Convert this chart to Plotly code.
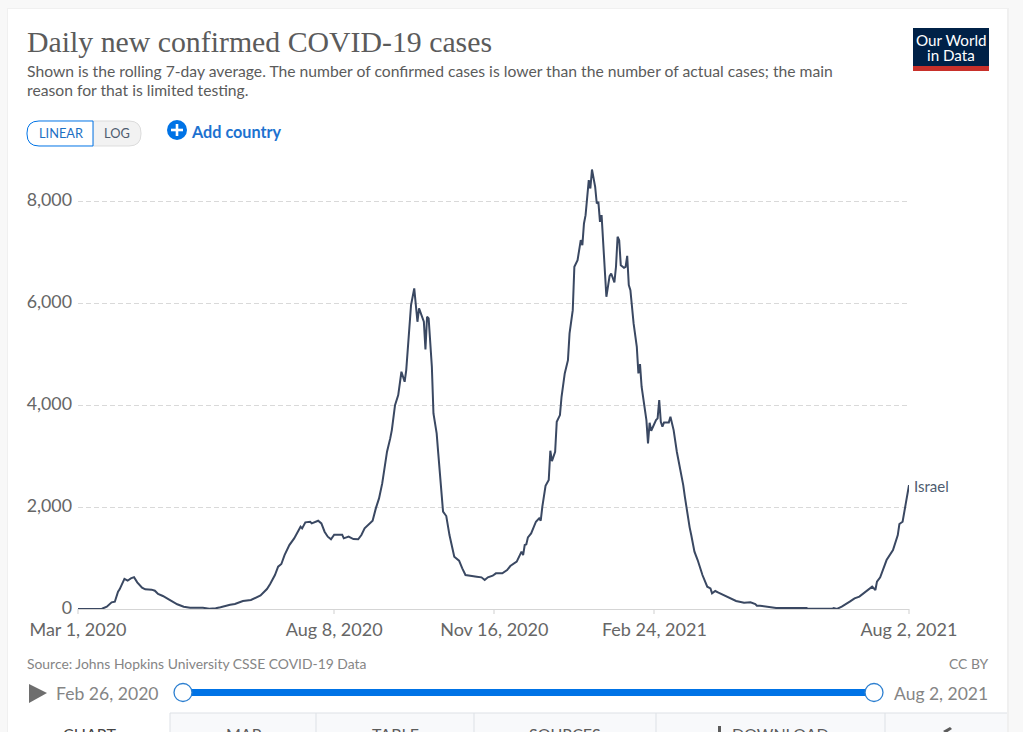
import pandas as pd
import plotly.graph_objects as go

START_DATE = "2020-03-01"
END_DATE = "2021-08-02"

days_since_start = [
    0, 15, 18, 21, 23, 25, 26, 29, 31, 33, 35, 37, 40, 42, 46, 48, 50, 53, 58, 62,
    66, 70, 78, 82, 86, 89, 95, 98, 103, 108, 114, 118, 120, 123, 125, 127, 129, 130, 132, 135,
    137, 139, 140, 142, 145, 146, 150, 152, 154, 156, 158, 160, 165, 166, 169, 172, 175, 177, 179, 181,
    184, 186, 188, 190, 192, 193, 195, 196, 198, 200, 202, 204, 205, 207, 208, 210, 211, 212, 213, 216,
    217, 218, 219, 221, 222, 224, 225, 226, 228, 230, 232, 235, 238, 240, 242, 246, 248, 249, 252, 254,
    256, 259, 261, 265, 268, 270, 274, 277, 278, 279, 280, 281, 283, 286, 288, 289, 290, 292, 294, 295,
    296, 298, 299, 301, 302, 304, 306, 307, 309, 310, 312, 314, 315, 316, 317, 318, 319, 320, 321, 323,
    324, 325, 326, 327, 329, 330, 332, 333, 335, 336, 337, 338, 339, 341, 342, 343, 344, 345, 347, 348,
    349, 350, 351, 352, 354, 355, 356, 357, 358, 361, 362, 363, 364, 365, 366, 369, 370, 371, 372, 374,
    376, 378, 379, 380, 382, 383, 385, 387, 389, 390, 393, 395, 396, 398, 400, 405, 411, 416, 420, 423,
    424, 426, 430, 436, 455, 456, 471, 472, 474, 477, 482, 485, 488, 493, 496, 498, 499, 501, 505, 509,
    512, 513, 515, 517, 519,
]
daily_cases = [
    0, 5, 45, 131, 143, 340, 386, 590, 555, 600, 625, 523, 418, 386, 379, 359, 294, 255, 163, 92,
    45, 25, 25, 5, 15, 33, 84, 98, 157, 176, 265, 392, 490, 666, 830, 882, 1058, 1124, 1254, 1385,
    1516, 1614, 1581, 1699, 1712, 1679, 1731, 1679, 1516, 1418, 1366, 1457, 1457, 1385, 1418, 1372, 1366, 1450, 1581, 1646,
    1731, 1973, 2169, 2463, 2855, 3084, 3345, 3508, 3998, 4194, 4652, 4456, 4684, 5468, 5958, 6285, 5926, 5632, 5893, 5632,
    5090, 5730, 5697, 4750, 3835, 3443, 3050, 2659, 1908, 1823, 1450, 1026, 947, 797, 666, 647, 647, 634, 621, 568,
    621, 653, 699, 699, 764, 843, 928, 1124, 1058, 1254, 1268, 1405, 1483, 1712, 1777, 1731, 2006, 2417, 2528, 3103,
    2900, 3084, 3672, 3802, 4162, 4619, 4880, 5403, 5860, 6710, 6840, 7232, 7134, 7559, 7722, 8147, 8408, 8245, 8617, 8278,
    7951, 7984, 7592, 7722, 6644, 6122, 6527, 6579, 6403, 6710, 7298, 7232, 6742, 6690, 6710, 6925, 6350, 6252, 5599, 5403,
    5142, 4619, 4802, 4358, 3868, 3704, 3247, 3652, 3495, 3704, 3737, 4096, 3672, 3574, 3659, 3659, 3770, 3639, 3508, 3084,
    2790, 2430, 2202, 1973, 1601, 1450, 1124, 960, 764, 666, 438, 405, 307, 353, 320, 242, 157, 124, 131, 98,
    65, 65, 46, 20, 20, 3, 3, 20, 3, 46, 144, 209, 242, 372, 438, 372, 536, 621, 960, 1156,
    1450, 1666, 1712, 2071, 2430,
]
x_tick_dates = ["2020-03-01", "2020-08-08", "2020-11-16", "2021-02-24", "2021-08-02"]
x_tick_labels = ["Mar 1, 2020", "Aug 8, 2020", "Nov 16, 2020", "Feb 24, 2021", "Aug 2, 2021"]
y_tick_values = [0, 2000, 4000, 6000, 8000]
y_tick_labels = ["0", "2,000", "4,000", "6,000", "8,000"]

W, H = 1023, 732
LINE = "#3a4862"
BLUE = "#0073e6"
GREY = "#5b5b5b"
LIGHT = "#858585"


def X(px):
    return px / W


def Y(py):
    return 1 - py / H


dates = pd.to_datetime(START_DATE) + pd.to_timedelta(days_since_start, unit="D")

fig = go.Figure(
    go.Scatter(
        x=dates, y=daily_cases, mode="lines",
        line=dict(color=LINE, width=2), hoverinfo="skip", cliponaxis=False,
    )
)

shapes = []


def rect(x0, y0, x1, y1, fill, line=None, width=0, layer="below"):
    shapes.append(dict(
        type="rect", xref="paper", yref="paper", x0=X(x0), x1=X(x1), y0=Y(y0), y1=Y(y1),
        fillcolor=fill, line=dict(color=line or fill, width=width), layer=layer,
    ))


def hline(x0, x1, y, color, width=1):
    shapes.append(dict(type="line", xref="paper", yref="paper", x0=X(x0), x1=X(x1), y0=Y(y), y1=Y(y),
                       line=dict(color=color, width=width), layer="below"))


def vline(x, y0, y1, color, width=1):
    shapes.append(dict(type="line", xref="paper", yref="paper", x0=X(x), x1=X(x), y0=Y(y0), y1=Y(y1),
                       line=dict(color=color, width=width), layer="below"))


def circle(cx, cy, r, fill, line, width=1.5, layer="above"):
    shapes.append(dict(type="circle", xref="paper", yref="paper",
                       x0=X(cx - r), x1=X(cx + r), y0=Y(cy - r), y1=Y(cy + r),
                       fillcolor=fill, line=dict(color=line, width=width), layer=layer))


def path(points, fill, line=None, width=0, layer="below"):
    d = "M " + " L ".join(f"{X(a):.5f},{Y(b):.5f}" for a, b in points) + " Z"
    shapes.append(dict(type="path", xref="paper", yref="paper", path=d, fillcolor=fill,
                       line=dict(color=line or fill, width=width), layer=layer))


def pill(x0, y0, x1, y1, r_left, r_right, fill, line):
    d = (f"M {X(x0 + r_left):.5f},{Y(y0):.5f} L {X(x1 - r_right):.5f},{Y(y0):.5f} "
         f"Q {X(x1):.5f},{Y(y0):.5f} {X(x1):.5f},{Y(y0 + r_right):.5f} "
         f"L {X(x1):.5f},{Y(y1 - r_right):.5f} "
         f"Q {X(x1):.5f},{Y(y1):.5f} {X(x1 - r_right):.5f},{Y(y1):.5f} "
         f"L {X(x0 + r_left):.5f},{Y(y1):.5f} "
         f"Q {X(x0):.5f},{Y(y1):.5f} {X(x0):.5f},{Y(y1 - r_left):.5f} "
         f"L {X(x0):.5f},{Y(y0 + r_left):.5f} "
         f"Q {X(x0):.5f},{Y(y0):.5f} {X(x0 + r_left):.5f},{Y(y0):.5f} Z")
    shapes.append(dict(type="path", xref="paper", yref="paper", path=d, fillcolor=fill,
                       line=dict(color=line, width=1), layer="below"))


# Card
rect(7, 8, 1009, 740, "#f0f0f0")
rect(8, 9, 1007, 740, "#ffffff")

# Scale toggle
pill(93, 121, 141, 146, 0, 12, "#f2f2f2", "#dcdcdc")
pill(27, 121, 93, 146, 12, 0, "#ffffff", BLUE)

# Add-country icon
circle(177, 130, 10, BLUE, BLUE, 0)
rect(171, 128.7, 183, 131.3, "#ffffff", layer="above")
rect(175.7, 124, 178.3, 136, "#ffffff", layer="above")

# Logo
rect(913, 28, 989, 66, "#002147")
rect(913, 66, 989, 71, "#c8302a")

# Ticks
for px in (78, 334, 494, 654, 909):
    vline(px, 609, 614, "#cfcfcf")

# Timeline
path([(29, 684), (47, 693), (29, 703)], "#6e6e6e")
rect(183, 689, 874, 696, BLUE)
circle(183, 692.5, 9, "#ffffff", "#2c7fd0", 1.3)
circle(874, 692.5, 9, "#ffffff", "#2c7fd0", 1.3)

# Tabs
rect(170, 713, 1007, 740, "#f8f9fb")
hline(170, 1007, 713, "#dde1e6")
for px in (170, 316, 474, 656, 885):
    vline(px, 713, 732, "#dde1e6")
# Download and share glyphs
rect(718, 726, 721, 732, "#5b5b5b")
path([(943, 731), (950, 727), (952, 729), (946, 733)], "#5b5b5b")

anns = []


def text(s, x, y, size, color, family="Lato", xanchor="left", yanchor="middle", bold=False):
    anns.append(dict(
        text=f"<b>{s}</b>" if bold else s, x=X(x), y=Y(y), xref="paper", yref="paper",
        xanchor=xanchor, yanchor=yanchor, showarrow=False, align="left",
        font=dict(size=size, color=color, family=family), borderpad=0, borderwidth=0,
    ))


text("Daily new confirmed COVID-19 cases", 27, 42, 29.8, GREY, family="Liberation Serif")
text("Shown is the rolling 7-day average. The number of confirmed cases is lower than the number of actual cases; the main",
     27, 71.5, 15.7, GREY)
text("reason for that is limited testing.", 27, 90.5, 15.7, GREY)
text("LINEAR", 60.5, 132.5, 12.8, "#1d6fc4", xanchor="center")
text("LOG", 117, 132.5, 12.8, "#4e5c6f", xanchor="center")
text("Add country", 191, 131, 16.2, "#1d72d0", bold=True)
text("Our World", 951, 39.5, 15.2, "#ffffff", xanchor="center")
text("in Data", 951, 55.5, 15.2, "#ffffff", xanchor="center")
text("Israel", 914, 486, 15, "#4e5c6f")
text("Source: Johns Hopkins University CSSE COVID-19 Data", 27, 663, 13.9, LIGHT)
text("CC BY", 989, 663, 13.9, LIGHT, xanchor="right")
text("Feb 26, 2020", 56, 693.5, 17.6, LIGHT)
text("Aug 2, 2021", 894, 693.5, 17.5, LIGHT)
for label, cx in (("CHART", 89), ("MAP", 244), ("TABLE", 395), ("SOURCES", 565), ("DOWNLOAD", 780)):
    text(label, cx, 734, 16, "#444444" if label == "CHART" else "#5b5b5b", xanchor="center")

fig.update_layout(
    width=W, height=H, autosize=False,
    margin=dict(l=0, r=0, t=0, b=0),
    paper_bgcolor="#f8f8f8", plot_bgcolor="rgba(0,0,0,0)",
    showlegend=False, shapes=shapes, annotations=anns,
    font=dict(family="Lato"),
    xaxis=dict(
        domain=[X(78), X(909)], range=[START_DATE, END_DATE], type="date",
        tickvals=x_tick_dates, ticktext=x_tick_labels, tickfont=dict(size=18, color="#666666"),
        showgrid=False, zeroline=False, showline=True, linecolor="#d5d5d5", linewidth=1,
        ticks="", ticklabelstandoff=4, ticklabeloverflow="allow", automargin=False,
    ),
    yaxis=dict(
        domain=[Y(609), Y(160)], range=[0, 449 / 0.051],
        tickvals=y_tick_values, ticktext=y_tick_labels, tickfont=dict(size=17.8, color="#666666"),
        showgrid=True, gridcolor="#d9d9d9", griddash="5px,3px", gridwidth=1,
        zeroline=False, showline=False, ticks="", ticklen=0, ticklabelstandoff=5, ticklabelshift=-1,
        automargin=False,
    ),
)

fig.write_html(
    "out.html", config={"displayModeBar": False},
    post_script="document.body.style.margin='0';document.documentElement.style.overflow='hidden';",
)
